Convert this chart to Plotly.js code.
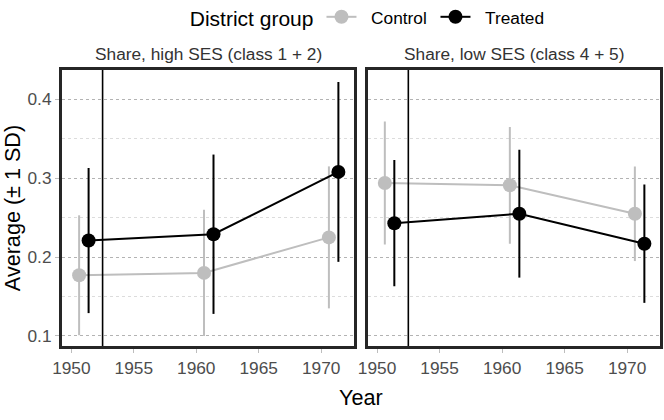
<!DOCTYPE html>
<html>
<head>
<meta charset="utf-8">
<script src="https://cdn.plot.ly/plotly-3.0.1.min.js"></script>
<style>
  html, body { margin: 0; padding: 0; background: #ffffff; }
  #chart { width: 664px; height: 420px; }
</style>
</head>
<body>
<div id="chart"></div>
<script>
/* ── data ─────────────────────────────────────────────── */
const years = [1951, 1961, 1971];
const panelTitles = ["Share, high SES (class 1 + 2)", "Share, low SES (class 4 + 5)"];
const groupNames = ["Control", "Treated"];

// high SES panel
const highControlMean = [0.177, 0.180, 0.225];
const highControlSd   = [0.076, 0.080, 0.090];
const highTreatedMean = [0.221, 0.229, 0.308];
const highTreatedSd   = [0.092, 0.101, 0.114];

// low SES panel
const lowControlMean = [0.294, 0.291, 0.255];
const lowControlSd   = [0.078, 0.074, 0.060];
const lowTreatedMean = [0.243, 0.255, 0.217];
const lowTreatedSd   = [0.080, 0.081, 0.075];

const cutoffYear = 1952.5;
const yTicks = [0.1, 0.2, 0.3, 0.4];
const xTicks = [1950, 1955, 1960, 1965, 1970];

/* ── style ────────────────────────────────────────────── */
const FONT = "Liberation Sans, Arial, sans-serif";
const colors = { control: "#bebebe", treated: "#000000", frame: "#262626", tick: "#4d4d4d" };
const dodge = 0.38;
const PAD = "\u00a0\u00a0";   // extra gap between legend glyph and label

function makeTrace(mean, sd, group, axisNum, showLegend) {
    const isTreated = group === groupNames[1];
    const col = isTreated ? colors.treated : colors.control;
    const shift = isTreated ? dodge : -dodge;
    return {
        x: years.map(y => y + shift),
        y: mean,
        type: "scatter",
        mode: "lines+markers",
        name: PAD + group,
        legendgroup: group,
        showlegend: showLegend,
        xaxis: axisNum === 1 ? "x" : "x2",
        yaxis: axisNum === 1 ? "y" : "y2",
        line: { color: col, width: 2 },
        marker: { color: col, size: 14 },
        error_y: { type: "data", array: sd, visible: true, color: col, thickness: 2, width: 0 },
        cliponaxis: false
    };
}

const traces = [
    makeTrace(highControlMean, highControlSd, groupNames[0], 1, true),
    makeTrace(highTreatedMean, highTreatedSd, groupNames[1], 1, true),
    makeTrace(lowControlMean, lowControlSd, groupNames[0], 2, false),
    makeTrace(lowTreatedMean, lowTreatedSd, groupNames[1], 2, false)
];

const xRange = [1949.25, 1972.63];
const yRange = [0.0873, 0.4372];

function xAxis(domain, anchor) {
    return {
        domain: domain, anchor: anchor, range: xRange,
        tickvals: xTicks, ticks: "outside", ticklen: 4, tickcolor: "#bdbdbd", tickwidth: 1,
        tickfont: { family: FONT, size: 17.3, color: colors.tick },
        showgrid: false, zeroline: false,
        showline: true, linewidth: 3, linecolor: colors.frame, mirror: true
    };
}

function yAxis(anchor, showLabels) {
    return {
        domain: [0, 1], anchor: anchor, range: yRange,
        tickvals: yTicks, showticklabels: showLabels,
        ticks: showLabels ? "outside" : "", ticklen: 4, tickcolor: "#bdbdbd", tickwidth: 1,
        tickfont: { family: FONT, size: 17.3, color: colors.tick },
        showgrid: true, gridcolor: "#b3b3b3", griddash: "dot", gridwidth: 1,
        minor: { tickvals: [0.15, 0.25, 0.35], showgrid: true, gridcolor: "#dcdcdc", griddash: "dot", gridwidth: 1 },
        zeroline: false,
        showline: true, linewidth: 3, linecolor: colors.frame, mirror: true
    };
}

const layout = {
    width: 664, height: 420,
    paper_bgcolor: "#ffffff", plot_bgcolor: "#ffffff",
    margin: { l: 62, r: 4, t: 70, b: 74 },
    font: { family: FONT, color: "#000000" },
    xaxis: xAxis([0, 0.4883], "y"),
    xaxis2: xAxis([0.5112, 1], "y2"),
    yaxis: Object.assign(yAxis("x", true), {
        title: { text: "Average (± 1 SD)", font: { family: FONT, size: 21.6, color: "#000" }, standoff: 6 }
    }),
    yaxis2: yAxis("x2", false),
    showlegend: true,
    legend: {
        orientation: "h", x: 0.513, xanchor: "center",
        xref: "paper", yref: "container", y: 0.957, yanchor: "middle",
        title: { text: "District group", side: "left", font: { family: FONT, size: 21, color: "#000" } },
        font: { family: FONT, size: 17.3, color: "#000" },
        itemwidth: 30, entrywidth: 69, bgcolor: "rgba(0,0,0,0)"
    },
    annotations: panelTitles.map((t, i) => ({
        text: t, xref: i === 0 ? "x domain" : "x2 domain", yref: "paper",
        x: 0.5, y: 1.058, xanchor: "center", yanchor: "middle", showarrow: false,
        font: { family: FONT, size: 17.3, color: "#333333" }
    })).concat([{
        text: "Year", xref: "paper", yref: "paper", x: 0.5, y: -0.185,
        xanchor: "center", yanchor: "middle", showarrow: false,
        font: { family: FONT, size: 21.6, color: "#000" }
    }]),
    shapes: ["x", "x2"].map((ax, i) => ({
        type: "line", xref: ax, yref: (i === 0 ? "y" : "y2") + " domain",
        x0: cutoffYear, x1: cutoffYear, y0: 0, y1: 1,
        line: { color: "#000000", width: 1.6 }
    }))
};

Plotly.newPlot("chart", traces, layout, { displayModeBar: false, staticPlot: true });
</script>
</body>
</html>
